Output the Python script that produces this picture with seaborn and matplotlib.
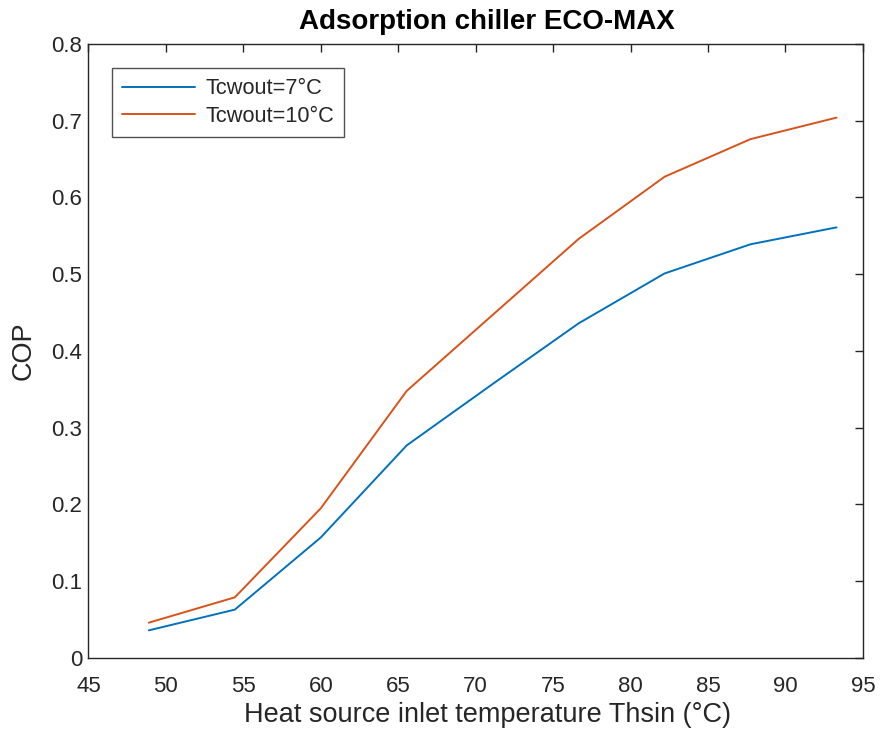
import matplotlib
matplotlib.use("Agg")
import matplotlib.pyplot as plt
import seaborn as sns
import pandas as pd

temps = [48.9, 54.45, 60.0, 65.55, 71.1, 76.65, 82.2, 87.75, 93.3]
cop_7 = [0.036, 0.063, 0.157, 0.277, 0.357, 0.436, 0.501, 0.539, 0.561]
cop_10 = [0.046, 0.079, 0.195, 0.348, 0.447, 0.546, 0.627, 0.676, 0.704]
labels = ["Tcwout=7°C", "Tcwout=10°C"]
xticks = [45, 50, 55, 60, 65, 70, 75, 80, 85, 90, 95]
yticks = [0, 0.1, 0.2, 0.3, 0.4, 0.5, 0.6, 0.7, 0.8]
yticklabels = ["0", "0.1", "0.2", "0.3", "0.4", "0.5", "0.6", "0.7", "0.8"]

df = pd.DataFrame({
    "T": temps * 2,
    "COP": cop_7 + cop_10,
    "series": [labels[0]] * len(temps) + [labels[1]] * len(temps),
})

sns.set_theme(style="white")
plt.rcParams['font.family'] = ['Liberation Sans', 'DejaVu Sans']

fig = plt.figure(figsize=(8.82, 7.31), dpi=100)
ax = fig.add_axes([0.1003, 0.0999, 0.878, 0.840])
sns.lineplot(data=df, x="T", y="COP", hue="series", hue_order=labels,
             palette=["#0072BD", "#D95319"], linewidth=1.4, ax=ax, legend=True)

ax.set_xlim(45, 95)
ax.set_ylim(0, 0.8)
ax.set_xticks(xticks)
ax.set_yticks(yticks)
ax.set_yticklabels(yticklabels)
ax.tick_params(direction="in", length=5.5, width=1, top=True, right=True,
               labelsize=16, colors="#262626")
ax.tick_params(axis="x", pad=13)
ax.tick_params(axis="y", pad=4.5)
for s in ax.spines.values():
    s.set_color("#262626")
    s.set_linewidth(1)
ax.set_xlabel("Heat source inlet temperature Thsin (°C)", fontsize=19.5, color="#262626")
ax.xaxis.set_label_coords(0.515, -0.0717)
ax.set_ylabel("COP", fontsize=19.5, color="#262626")
ax.yaxis.set_label_coords(-0.0665, 0.5)
ax.set_title("Adsorption chiller ECO-MAX", fontsize=20, fontweight="bold",
             color="black", x=0.515, y=1.024, pad=0)

leg = ax.legend(loc="upper left", bbox_to_anchor=(0.030, 0.960), borderaxespad=0,
                fontsize=15.7, frameon=True, fancybox=False, edgecolor="#262626",
                handlelength=3.35, handletextpad=0.5, borderpad=0.45,
                labelspacing=0.3)
leg.get_frame().set_linewidth(1)

fig.savefig("out.png", dpi=100)
